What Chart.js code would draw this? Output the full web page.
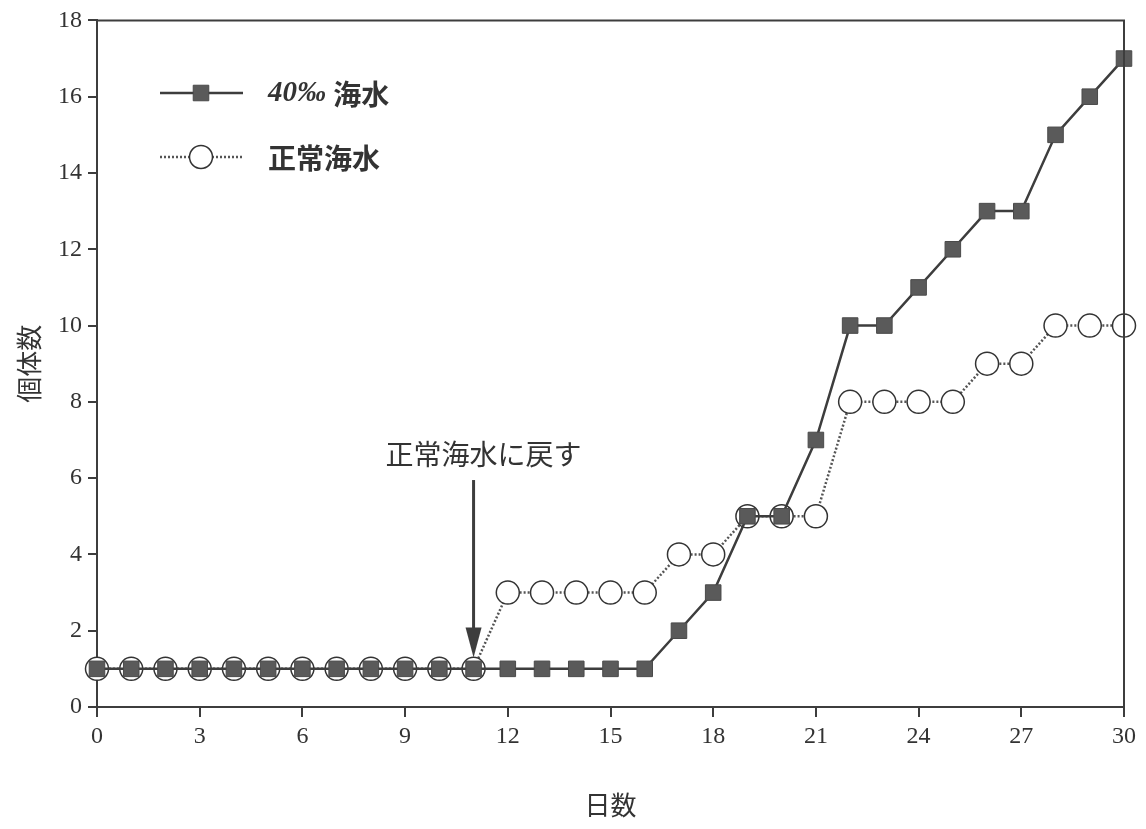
<!DOCTYPE html>
<html>
<head>
<meta charset="utf-8">
<script src="https://cdn.jsdelivr.net/npm/chart.js@4.4.1/dist/chart.umd.min.js"></script>
<style>
  html, body { margin: 0; padding: 0; background: #fff; }
  #wrap { width: 1146px; height: 829px; }
</style>
</head>
<body>
<div id="wrap"><canvas id="myChart" width="1146" height="829"></canvas></div>
<script>
// data
const days = [0, 1, 2, 3, 4, 5, 6, 7, 8, 9, 10, 11, 12, 13, 14, 15,
  16, 17, 18, 19, 20, 21, 22, 23, 24, 25, 26, 27, 28, 29, 30];
const salty = [1, 1, 1, 1, 1, 1, 1, 1, 1, 1, 1, 1, 1, 1, 1, 1,
  1, 2, 3, 5, 5, 7, 10, 10, 11, 12, 13, 13, 15, 16, 17];
const normal = [1, 1, 1, 1, 1, 1, 1, 1, 1, 1, 1, 1, 3, 3, 3, 3,
  3, 4, 4, 5, 5, 5, 8, 8, 8, 8, 9, 9, 10, 10, 10];
const seriesNames = ["40‰ 海水", "正常海水"];
const axisTitles = { x: "日数", y: "個体数" };
const note = { text: "正常海水に戻す", day: 11, from: 5.95, to: 1.3 };

const ink = "#3d3d3d";
const serif = "'Liberation Serif', 'DejaVu Serif', serif";
const jp = "'Noto Sans CJK JP', sans-serif";

function toPoints(values) {
  return days.map((d, i) => ({ x: d, y: values[i] }));
}

// latin part in bold italic serif, the kanji part in bold gothic
function drawLabel(ctx, text, x, y) {
  let cx = x;
  text.split(/(\s+)/).forEach((part) => {
    if (!part) return;
    const latin = /^[\x00-\x7F‰]+$/.test(part);
    ctx.font = latin ? "bold italic 29px " + serif : "bold 28px " + jp;
    ctx.fillText(part, cx, y);
    cx += ctx.measureText(part).width;
  });
}

// frame, arrow note and the legend in the top left corner
const extras = {
  id: "extras",
  afterDraw(chart) {
    const ctx = chart.ctx;
    const area = chart.chartArea;
    const xs = chart.scales.x;
    const ys = chart.scales.y;
    ctx.save();

    ctx.strokeStyle = ink;
    ctx.lineWidth = 2;
    ctx.beginPath();
    ctx.moveTo(area.left, area.top);
    ctx.lineTo(area.right, area.top);
    ctx.lineTo(area.right, area.bottom);
    ctx.stroke();

    // arrow
    const ax = xs.getPixelForValue(note.day);
    const y1 = ys.getPixelForValue(note.from);
    const y2 = ys.getPixelForValue(note.to);
    ctx.lineWidth = 3;
    ctx.beginPath();
    ctx.moveTo(ax, y1);
    ctx.lineTo(ax, y2 - 24);
    ctx.stroke();
    ctx.fillStyle = ink;
    ctx.beginPath();
    ctx.moveTo(ax - 8, y2 - 30);
    ctx.lineTo(ax + 8, y2 - 30);
    ctx.lineTo(ax, y2);
    ctx.closePath();
    ctx.fill();

    ctx.font = "28px " + jp;
    ctx.textAlign = "center";
    ctx.textBaseline = "middle";
    ctx.fillStyle = "#333";
    ctx.fillText(note.text, ax + 10, y1 - 26);

    // legend
    const rows = [93, 157];
    chart.data.datasets.forEach((ds) => {
      const y = rows[ds.legendRow];
      ctx.strokeStyle = ds.borderColor;
      ctx.lineWidth = ds.borderWidth;
      ctx.setLineDash(ds.borderDash || []);
      ctx.beginPath();
      ctx.moveTo(160, y);
      ctx.lineTo(243, y);
      ctx.stroke();
      ctx.setLineDash([]);
      ctx.fillStyle = ds.pointBackgroundColor;
      ctx.strokeStyle = ds.pointBorderColor;
      ctx.lineWidth = ds.pointBorderWidth;
      ctx.beginPath();
      if (ds.pointStyle === "rect") {
        const s = ds.pointRadius * Math.SQRT1_2;
        ctx.rect(201 - s, y - s, 2 * s, 2 * s);
      } else {
        ctx.arc(201, y, ds.pointRadius, 0, Math.PI * 2);
      }
      ctx.fill();
      ctx.stroke();
      ctx.fillStyle = "#333";
      ctx.textAlign = "left";
      drawLabel(ctx, ds.label, 268, y + 1);
    });
    ctx.restore();
  }
};

const data = {
  datasets: [
    {
      label: seriesNames[0],
      data: toPoints(salty),
      legendRow: 0,
      order: 0,
      borderColor: ink,
      borderWidth: 2.5,
      pointStyle: "rect",
      pointRadius: 11,
      pointBackgroundColor: "#5a5a5a",
      pointBorderColor: "#4a4a4a",
      pointBorderWidth: 1,
      clip: false
    },
    {
      label: seriesNames[1],
      data: toPoints(normal),
      legendRow: 1,
      order: 1,
      borderColor: "#555",
      borderWidth: 2.5,
      borderDash: [2, 2],
      pointStyle: "circle",
      pointRadius: 11.5,
      pointBackgroundColor: "#ffffff",
      pointBorderColor: "#333",
      pointBorderWidth: 1.5,
      clip: false
    }
  ]
};

const config = {
  type: "line",
  data,
  options: {
    responsive: false,
    animation: false,
    events: [],
    layout: { padding: { top: 18, right: 22, left: 0, bottom: 0 } },
    plugins: {
      legend: { display: false },
      tooltip: { enabled: false }
    },
    scales: {
      x: {
        type: "linear",
        min: 0,
        max: 30,
        afterFit(scale) { scale.height = 122; },
        border: { color: ink, width: 2 },
        grid: { drawOnChartArea: false, color: ink, lineWidth: 2, tickLength: 10 },
        ticks: { stepSize: 3, color: "#333", padding: 5, maxRotation: 0,
          font: { family: serif, size: 24 } },
        title: { display: true, text: axisTitles.x, color: "#333",
          padding: { top: 0, bottom: 8 }, font: { family: jp, size: 26 } }
      },
      y: {
        min: 0,
        max: 18,
        afterFit(scale) { scale.width = 97; },
        border: { color: ink, width: 2 },
        grid: { drawOnChartArea: false, color: ink, lineWidth: 2, tickLength: 9 },
        ticks: { stepSize: 2, color: "#333", padding: 6,
          font: { family: serif, size: 24 } },
        title: { display: true, text: axisTitles.y, color: "#333",
          padding: { top: 14, bottom: 0 }, font: { family: jp, size: 26 } }
      }
    }
  },
  plugins: [extras]
};

const myChart = new Chart(document.getElementById("myChart"), config);
</script>
</body>
</html>
